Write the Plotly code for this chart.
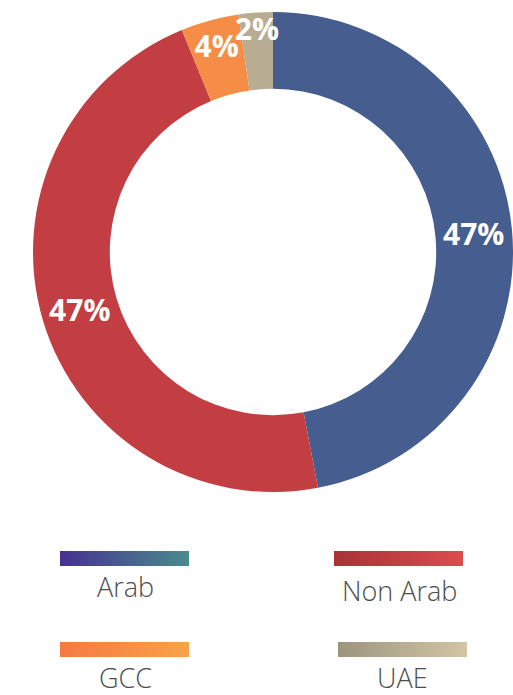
import plotly.graph_objects as go

categories = ["Arab", "Non Arab", "GCC", "UAE"]
values = [47.0, 46.8, 3.9, 2.3]
grad_start = ["#46318f", "#a83236", "#f47a43", "#9c957d"]
grad_end = ["#4a8b8e", "#dc4c4f", "#f9a24a", "#d3c5a5"]
mid_colors = ["#455d8f", "#c23e42", "#f68d46", "#b8ad92"]

W, H = 513, 695

fig = go.Figure()

fig.add_trace(go.Pie(
    labels=categories,
    values=values,
    hole=0.68,
    sort=False,
    direction="clockwise",
    rotation=0,
    marker=dict(colors=mid_colors, line=dict(width=0)),
    texttemplate="%{percent:.0%}",
    textposition="inside",
    insidetextorientation="horizontal",
    textfont=dict(family="Open Sans", size=30, color="white", weight="bold"),
    domain=dict(x=[33 / W, 513 / W], y=[1 - 492 / H, 1 - 12 / H]),
    showlegend=False,
    hoverinfo="label+percent",
))

# custom legend: gradient swatches with labels below
legend_pos = [(60, 551, 125, 586), (334, 551, 399, 590), (60, 642, 125, 677), (338, 642, 402, 677)]
sw_w, sw_h = 129, 15
for i, cat in enumerate(categories):
    x0, y0, tx, ty = legend_pos[i]
    fig.add_trace(go.Scatter(
        x=[x0, x0 + sw_w, x0 + sw_w, x0, x0],
        y=[y0, y0, y0 + sw_h, y0 + sw_h, y0],
        mode="lines",
        line=dict(width=0),
        fill="toself",
        fillgradient=dict(type="horizontal",
                          colorscale=[[0, grad_start[i]], [1, grad_end[i]]]),
        hoverinfo="skip",
        showlegend=False,
    ))
    fig.add_annotation(
        x=tx, y=ty, xref="x", yref="y",
        text=cat, showarrow=False,
        font=dict(family="Open Sans", size=27, color="#4d4d4d", weight=300),
        xanchor="center", yanchor="middle", borderpad=0,
    )

fig.update_layout(
    width=W, height=H,
    margin=dict(l=0, r=0, t=0, b=0),
    paper_bgcolor="white",
    plot_bgcolor="rgba(0,0,0,0)",
    uniformtext=dict(minsize=30, mode="show"),
    xaxis=dict(range=[0, W], visible=False, domain=[0, 1], fixedrange=True),
    yaxis=dict(range=[H, 0], visible=False, domain=[0, 1], fixedrange=True),
)

fig.write_html(
    "out.html",
    config={"displayModeBar": False},
    post_script="document.body.style.margin='0';document.body.style.overflow='hidden';",
)
